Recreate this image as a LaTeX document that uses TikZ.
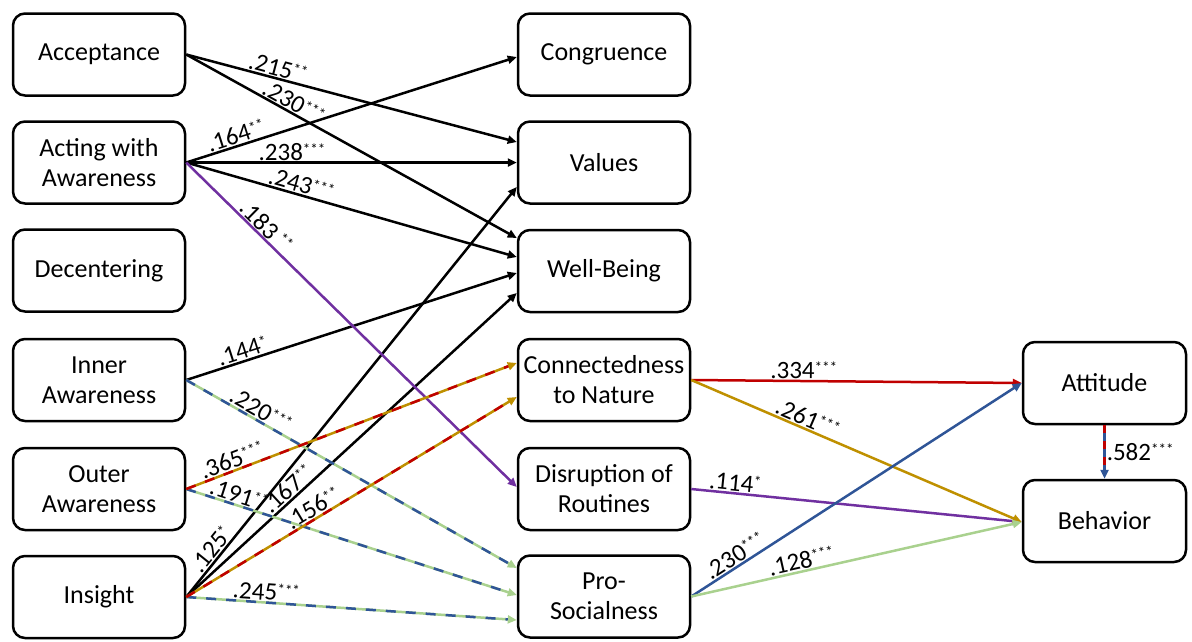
\documentclass[tikz,border=0pt]{standalone}
\usepackage{fontspec}
\setmainfont{Carlito}
\usetikzlibrary{arrows.meta,calc}
\definecolor{cred}{HTML}{C00000}
\definecolor{cgold}{HTML}{BF9000}
\definecolor{cpurple}{HTML}{7030A0}
\definecolor{cblue}{HTML}{2F5597}
\definecolor{cgreen}{HTML}{A9D18E}
\newcommand\st[1]{\raisebox{6pt}{\fontsize{15}{15}\selectfont #1}}
\begin{document}
\begin{tikzpicture}[x=1pt,y=-1pt,
  box/.style={draw, line width=2.5pt, rounded corners=12pt, minimum width=172pt,
    minimum height=82pt, align=center, font=\fontsize{26}{30}\selectfont, inner sep=0pt},
  rbox/.style={box, minimum width=163pt},
  arr/.style={line width=2.5pt, -{Triangle[length=9pt,width=8pt]}},
  blk/.style={arr, black},
  ovl/.style={line width=2.5pt, dash pattern=on 10pt off 10pt, shorten >=9pt},
  lbl/.style={sloped, above, inner sep=1pt, font=\fontsize{25}{27}\selectfont, text=black},
  plbl/.style={inner sep=1pt, font=\fontsize{25}{27}\selectfont, text=black}]
\useasboundingbox (0,0) rectangle (1192,641);
% left column
\node[box] (acc) at (99,54.5) {Acceptance};
\node[box] (act) at (99,162.5) {Acting with\\Awareness};
\node[box] (dec) at (99,270.5) {Decentering};
\node[box] (inn) at (99,380) {Inner\\Awareness};
\node[box] (out) at (99,489) {Outer\\Awareness};
\node[box] (ins) at (99,597) {Insight};
% middle column
\node[box] (con) at (604,54.5) {Congruence};
\node[box] (val) at (604,162.5) {Values};
\node[box] (wb) at (604,271) {Well-Being};
\node[box] (ctn) at (604,380) {Connectedness\\to Nature};
\node[box] (dis) at (604,489) {Disruption of\\Routines};
\node[box] (pro) at (604,596.5) {Pro-\\Socialness};
% right column
\node[rbox] (att) at (1104.5,383) {Attitude};
\node[rbox] (beh) at (1104.5,521) {Behavior};

% black edges
\draw[blk] (acc.east) -- ($(val.west)+(0,-20.5)$) node[lbl,pos=0.27] {.215\st{**}};
\draw[blk] (acc.east) -- ($(wb.west)+(0,-33)$) node[lbl,pos=0.31] {.230\st{***}};
\draw[blk] (act.east) -- ($(con.west)+(0,2.5)$) node[lbl,pos=0.16] {.164\st{**}};
\draw[blk] (act.east) -- (val.west) node[lbl,pos=0.32] {.238\st{***}};
\draw[blk] (act.east) -- ($(wb.west)+(0,-14)$) node[lbl,pos=0.34] {.243\st{***}};
\draw[blk] (inn.east) -- ($(wb.west)+(0,2)$) node[lbl,pos=0.18] {.144\st{*}};
\draw[blk] (ins.east) -- ($(val.west)+(0,24.5)$) node[lbl,pos=0.1] {.125\st{*}};
\draw[blk] (ins.east) -- ($(wb.west)+(0,22)$) node[lbl,pos=0.33] {.167\st{**}};
% purple
\draw[arr, cpurple] (act.east) -- ($(dis.west)+(0,-2)$) node[lbl,pos=0.22] {.183\,\st{**}};
\draw[arr, cpurple] (dis.east) -- ($(beh.west)+(0,1)$) node[lbl,pos=0.13] {.114\st{*}};
% green/blue dashed
\draw[arr, cgreen] (inn.east) -- ($(pro.west)+(0,-28.5)$) node[lbl,pos=0.21] {.220\st{***}};
\draw[ovl, cblue] (inn.east) -- ($(pro.west)+(0,-28.5)$);
\draw[arr, cgreen] (out.east) -- ($(pro.west)+(0,-1.5)$) node[lbl,pos=0.15] {.191\st{**}};
\draw[ovl, cblue] (out.east) -- ($(pro.west)+(0,-1.5)$);
\draw[arr, cgreen] (ins.east) -- ($(pro.west)+(0,23.5)$) node[lbl,pos=0.24] {.245\st{***}};
\draw[ovl, cblue] (ins.east) -- ($(pro.west)+(0,23.5)$);
% gold/red dashed
\draw[arr, cgold] (out.east) -- ($(ctn.west)+(0,-17)$) node[lbl,pos=0.15] {.365\st{***}};
\draw[ovl, cred] (out.east) -- ($(ctn.west)+(0,-17)$);
\draw[arr, cgold] (ins.east) -- ($(ctn.west)+(0,17)$) node[lbl,pos=0.4] {.156\st{**}};
\draw[ovl, cred] (ins.east) -- ($(ctn.west)+(0,17)$);
% right part
\draw[arr, cred] (ctn.east) -- (att.west) node[lbl,pos=0.34] {.334\st{***}};
\draw[arr, cgold] (ctn.east) -- ($(beh.west)+(0,1)$) node[lbl,pos=0.34] {.261\st{***}};
\draw[arr, cblue] (pro.east) -- (att.west) node[lbl,pos=0.15] {.230\st{***}};
\draw[arr, cgreen] (pro.east) -- ($(beh.west)+(0,1)$) node[lbl,pos=0.34] {.128\st{***}};
\draw[arr, cblue] (att.south) -- (beh.north) node[plbl,pos=0.5,right] {.582\st{***}};
\draw[ovl, cred, dash pattern=on 8pt off 8pt] (att.south) -- (beh.north);
\end{tikzpicture}
\end{document}
